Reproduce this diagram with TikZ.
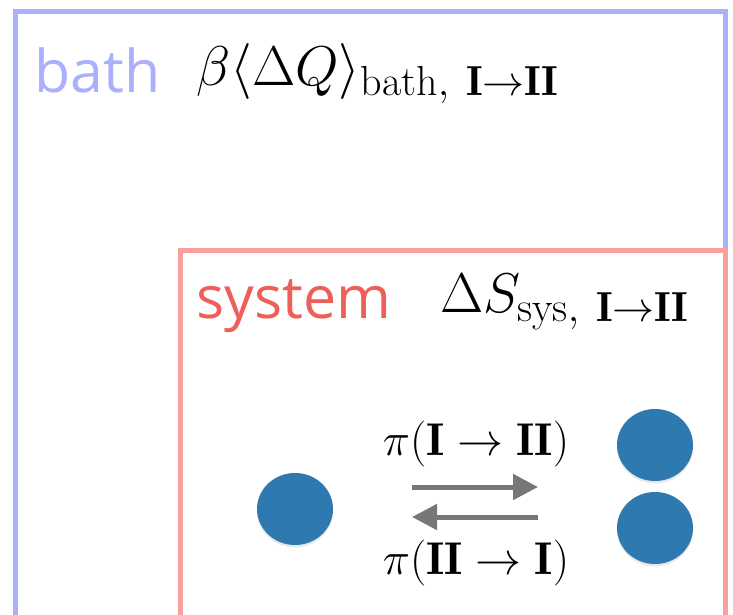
\documentclass[tikz,border=0pt]{standalone}
\usepackage{fix-cm}
\usepackage{amsmath, amssymb}
\usepackage{fontspec}
\setsansfont{Open Sans}
\usepackage{tikz}
\usetikzlibrary{calc, arrows.meta, shadows, shapes.geometric}
\DeclareMathSizes{28}{28}{21}{16}
\definecolor{bathblue}{RGB}{170,176,250}
\definecolor{sysline}{RGB}{250,160,155}
\definecolor{sysred}{RGB}{238,95,90}
\definecolor{dotblue}{RGB}{46,121,176}
\definecolor{flowgray}{RGB}{118,120,120}

\begin{document}
\begin{tikzpicture}[x=0.5pt, y=-0.5pt]
    % 画布大小（按像素）
    \useasboundingbox (0,0) rectangle (733,615);

    % --- 样式 ---
    \tikzset{
        boxlabel/.style={font=\sffamily\fontsize{29.5}{32}\selectfont, inner sep=0pt, anchor=base west},
        mathlabel/.style={font=\fontsize{28}{32}\selectfont, inner sep=0pt, anchor=base west},
        ratelabel/.style={font=\fontsize{23}{27}\selectfont, inner sep=0pt, anchor=base},
        state/.style={ellipse, minimum width=38pt, minimum height=36pt, inner sep=0pt,
            fill=dotblue, drop shadow={shadow xshift=0pt, shadow yshift=-1.2pt, opacity=0.18}},
        flow/.style={flowgray, line width=2.5pt, -{Triangle[length=12.5pt, width=12.5pt]}},
    }

    % --- 宏：画一个向下开口的框 ---
    \newcommand{\openbox}[4]{
        % #1 颜色, #2 左, #3 上, #4 右
        \draw[#1, line width=2.5pt] (#2,640) -- (#2,#3) -- (#4,#3) -- (#4,640);
    }

    % --- 热库 ---
    \openbox{bathblue}{15}{12}{725}
    \node[boxlabel, text=bathblue] (bathname) at (34,93) {bath};
    \node[mathlabel] (bathheat) at (196,86)
        {$\beta\langle\Delta Q\rangle_{\mathrm{bath},\ \mathbf{I}\to\mathbf{II}}$};

    % --- 系统 ---
    \openbox{sysline}{180}{250}{725}
    \node[boxlabel, text=sysred] (sysname) at (196,318) {system};
    \node[mathlabel] (sysentropy) at (440,312)
        {$\Delta S_{\mathrm{sys},\ \mathbf{I}\to\mathbf{II}}$};

    % --- 状态 ---
    \node[state] (one) at (295,509) {};
    \node[state] (twoa) at (655,445) {};
    \node[state] (twob) at (655,528) {};

    % --- 跃迁箭头 ---
    \coordinate (fwdL) at (412,487);
    \coordinate (fwdR) at (538,487);
    \coordinate (bwdL) at (412,517);
    \coordinate (bwdR) at (538,517);
    \draw[flow] (fwdL) -- (fwdR);
    \draw[flow] (bwdR) -- (bwdL);

    \node[ratelabel] (rateup) at (476,455) {$\pi(\mathbf{I}\to\mathbf{II})$};
    \node[ratelabel] (ratedown) at (476,574) {$\pi(\mathbf{II}\to\mathbf{I})$};

\end{tikzpicture}
\end{document}
